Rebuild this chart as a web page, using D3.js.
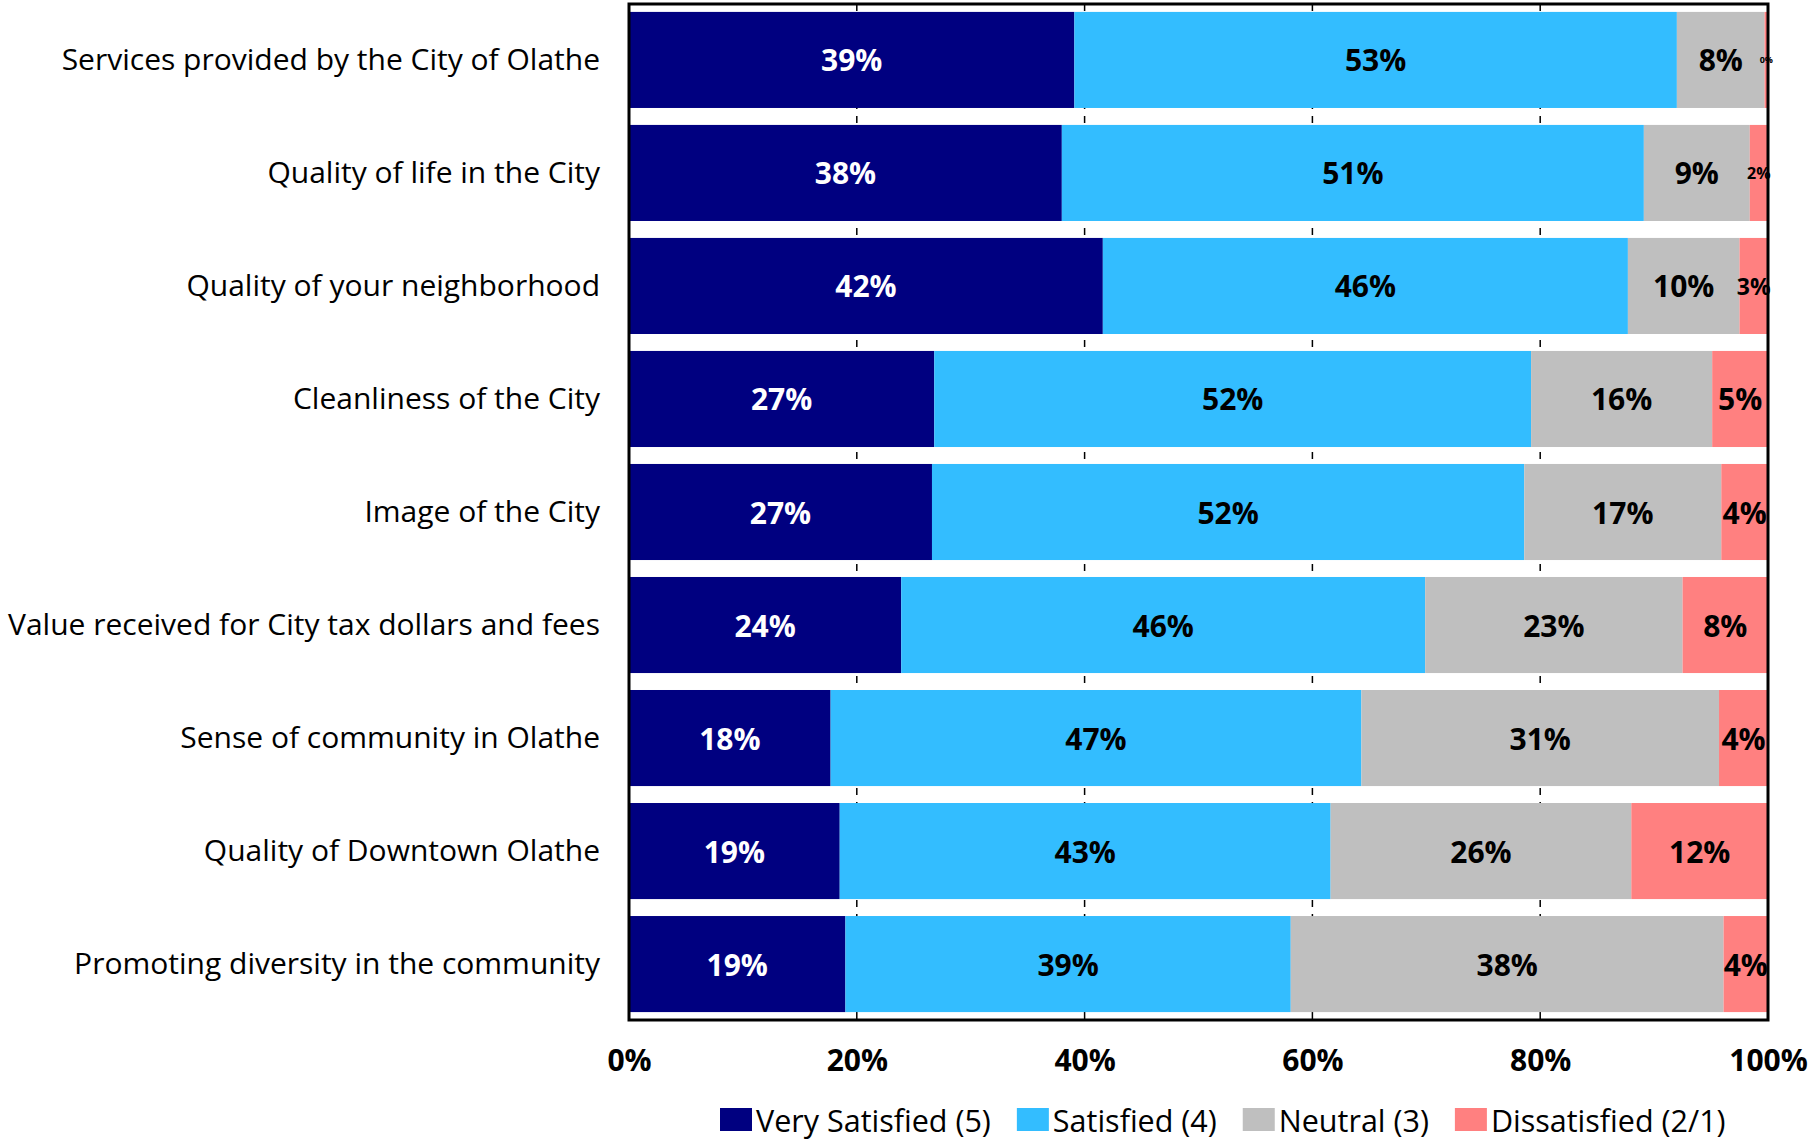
<!DOCTYPE html>
<html>
<head>
<meta charset="utf-8">
<script src="https://cdn.jsdelivr.net/npm/d3@7"></script>
<style>
  body { margin: 0; background: #fff; }
  svg { display: block; font-family: "Open Sans", sans-serif; }
</style>
</head>
<body>
<div id="canvas"></div>
<script>
// survey items, top to bottom
let categories = [
    "Services provided by the City of Olathe",
    "Quality of life in the City",
    "Quality of your neighborhood",
    "Cleanliness of the City",
    "Image of the City",
    "Value received for City tax dollars and fees",
    "Sense of community in Olathe",
    "Quality of Downtown Olathe",
    "Promoting diversity in the community"
];

let verySatisfied = [39.1, 38.0, 41.6, 26.8, 26.6, 23.9, 17.7, 18.5, 19.0];
let satisfied     = [52.9, 51.1, 46.1, 52.4, 52.0, 46.0, 46.6, 43.1, 39.1];
let neutral       = [7.7, 9.3, 9.8, 15.9, 17.3, 22.6, 31.4, 26.4, 38.0];
let dissatisfied  = [0.3, 1.6, 2.5, 4.9, 4.1, 7.5, 4.3, 12.0, 3.9];

let seriesNames = ["Very Satisfied (5)", "Satisfied (4)", "Neutral (3)", "Dissatisfied (2/1)"];
let tickValues = [0, 20, 40, 60, 80, 100];

let colors = ["#000080", "#33BDFF", "#BFBFBF", "#FF8080"];
let labelColors = ["#fff", "#000", "#000", "#000"];

const W = 1813, H = 1141;
let margin = { top: 4, left: 629, right: W - 1768, bottom: H - 1020 };

let rows = categories.map((c, i) => ({
    cat: c,
    s0: verySatisfied[i],
    s1: satisfied[i],
    s2: neutral[i],
    s3: dissatisfied[i]
}));

const stack = d3.stack().keys(["s0", "s1", "s2", "s3"]);
const stacked = stack(rows);

let svg = d3.select("#canvas")
    .append("svg")
    .attr("width", W)
    .attr("height", H);

let x = d3.scaleLinear()
    .domain([0, 100])
    .range([margin.left, W - margin.right]);

let y = d3.scaleBand()
    .domain(categories)
    .range([margin.top, H - margin.bottom])
    .paddingInner(0.15)
    .paddingOuter(0.07);

// dashed gridlines (only peek out between bars)
svg.append("g")
    .selectAll("line")
    .data(tickValues.filter(t => t > 0 && t < 100))
    .join("line")
    .attr("x1", d => x(d)).attr("x2", d => x(d))
    .attr("y1", margin.top).attr("y2", H - margin.bottom)
    .attr("stroke", "#000")
    .attr("stroke-width", 1.5)
    .attr("stroke-dasharray", "7,7");

let groups = svg.append("g")
    .selectAll("g.series")
    .data(stacked)
    .join("g")
    .attr("class", "series")
    .attr("fill", (d, i) => colors[i]);

groups.selectAll("rect")
    .data(d => d)
    .join("rect")
    .attr("x", d => x(d[0]))
    .attr("y", d => y(d.data.cat))
    .attr("width", d => x(d[1]) - x(d[0]))
    .attr("height", y.bandwidth());

let labelSize = v => v < 1 ? 9 : v < 2 ? 16 : v < 3 ? 23 : 30;

stacked.forEach((s, si) => {
    svg.append("g")
        .selectAll("text")
        .data(s)
        .join("text")
        .attr("x", d => (x(d[0]) + x(d[1])) / 2)
        .attr("y", d => y(d.data.cat) + y.bandwidth() / 2)
        .attr("text-anchor", "middle")
        .attr("dominant-baseline", "central")
        .attr("font-weight", "bold")
        .attr("font-size", d => labelSize(d[1] - d[0]) + "px")
        .attr("fill", labelColors[si])
        .text(d => Math.round(d[1] - d[0]) + "%");
});

// frame
svg.append("rect")
    .attr("x", x(0))
    .attr("y", margin.top)
    .attr("width", x(100) - x(0))
    .attr("height", H - margin.bottom - margin.top)
    .attr("fill", "none")
    .attr("stroke", "#000")
    .attr("stroke-width", 3);

// category labels
let yAxis = d3.axisLeft(y).tickSize(0).tickPadding(29);
svg.append("g")
    .attr("transform", `translate(${margin.left},0)`)
    .call(yAxis)
    .call(g => g.select(".domain").remove())
    .call(g => g.selectAll("text")
        .attr("font-family", "Open Sans")
        .attr("font-size", "30px")
        .attr("fill", "#000"));

// x axis labels
let xAxis = d3.axisBottom(x).tickValues(tickValues).tickSize(0).tickPadding(30)
    .tickFormat(d => d + "%");
svg.append("g")
    .attr("transform", `translate(0,${H - margin.bottom})`)
    .call(xAxis)
    .call(g => g.select(".domain").remove())
    .call(g => g.selectAll("text")
        .attr("font-family", "Open Sans")
        .attr("font-size", "30px")
        .attr("font-weight", "bold")
        .attr("fill", "#000"));

// legend
let legend = svg.append("g");
let lx = 720;
seriesNames.forEach((name, i) => {
    let item = legend.append("g").attr("transform", `translate(${lx},1108)`);
    item.append("rect")
        .attr("width", 32)
        .attr("height", 23)
        .attr("fill", colors[i]);
    let t = item.append("text")
        .attr("x", 36)
        .attr("y", 12)
        .attr("dominant-baseline", "central")
        .attr("font-size", "30.5px")
        .attr("fill", "#000")
        .text(name);
    lx += 36 + t.node().getComputedTextLength() + 26;
});
</script>
</body>
</html>
